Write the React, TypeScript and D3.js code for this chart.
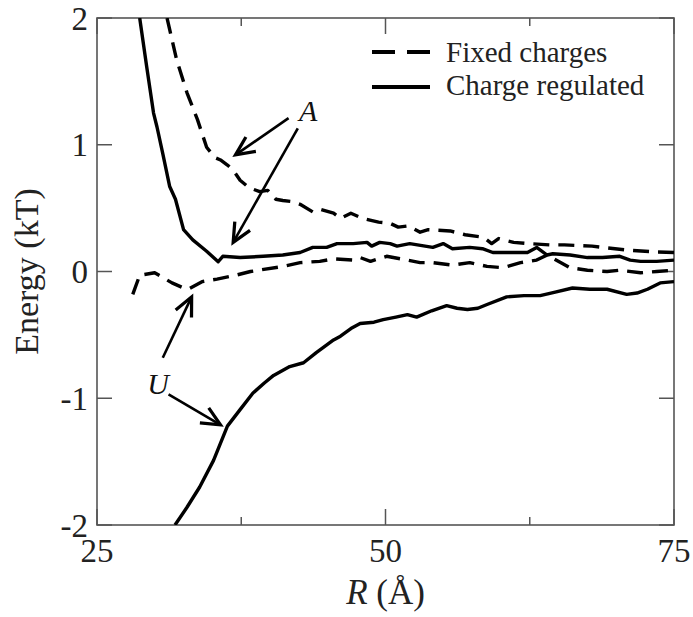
import React from "react";
import * as d3 from "d3";

// R (Å), energy (kT)
const fixedAttract: [number, number][] = [
  [31.07, 2.0], [31.9, 1.67], [32.8, 1.41], [33.7, 1.2], [34.5, 0.98], [35.2, 0.9],
  [35.7, 0.88], [36.3, 0.84], [36.8, 0.8], [37.4, 0.72], [38.2, 0.66], [39.1, 0.63],
  [39.8, 0.64], [40.5, 0.57], [41.1, 0.56], [42.0, 0.55], [42.6, 0.53], [43.7, 0.47],
  [44.4, 0.49], [45.5, 0.46], [46.1, 0.42], [47.0, 0.46], [48.0, 0.42], [49.4, 0.39],
  [50.4, 0.38], [51.1, 0.35], [52.0, 0.36], [53.0, 0.31], [53.7, 0.33], [55.6, 0.32],
  [56.9, 0.29], [58.5, 0.27], [59.2, 0.22], [59.8, 0.26], [61.1, 0.23], [62.4, 0.22],
  [64.2, 0.21], [65.5, 0.21], [67.9, 0.2], [70.8, 0.17], [73.4, 0.155], [75, 0.15],
];

const regulatedAttract: [number, number][] = [
  [28.7, 2.0], [29.3, 1.62], [29.9, 1.25], [30.2, 1.14], [30.7, 0.93], [31.3, 0.67],
  [31.8, 0.57], [32.5, 0.33], [33.3, 0.25], [34.5, 0.16], [35.5, 0.077], [35.9, 0.12],
  [37.4, 0.11], [39.4, 0.12], [41.1, 0.13], [42.6, 0.15], [43.7, 0.19], [44.9, 0.19],
  [45.8, 0.22], [47.2, 0.22], [48.4, 0.23], [48.8, 0.2], [49.5, 0.23], [50.4, 0.22],
  [51.0, 0.2], [52.1, 0.22], [54.1, 0.19], [55.0, 0.22], [55.8, 0.18], [57.3, 0.19],
  [58.4, 0.18], [59.3, 0.15], [60.8, 0.15], [62.3, 0.15], [63.1, 0.19], [64.0, 0.13],
  [64.5, 0.14], [66.0, 0.13], [67.5, 0.11], [68.8, 0.11], [70.3, 0.12], [71.2, 0.09],
  [72.1, 0.08], [73.5, 0.08], [75, 0.09],
];

const fixedRepulse: [number, number][] = [
  [28.1, -0.18], [28.7, -0.03], [30.0, -0.01], [31.5, -0.09], [32.5, -0.13], [32.9, -0.14],
  [34.1, -0.08], [35.4, -0.06], [37.0, -0.03], [38.3, 0.0], [41.1, 0.04], [42.6, 0.07],
  [44.3, 0.08], [45.5, 0.1], [47.2, 0.09], [47.8, 0.11], [48.7, 0.08], [50.1, 0.12],
  [51.3, 0.1], [53.0, 0.07], [54.1, 0.07], [55.8, 0.05], [57.3, 0.07], [58.8, 0.04],
  [60.2, 0.03], [61.7, 0.07], [63.1, 0.09], [64.0, 0.13], [66.0, 0.03], [67.5, 0.01],
  [69.2, 0.0], [70.3, 0.01], [72.1, -0.01], [73.5, 0.0], [75, 0.01],
];

const regulatedRepulse: [number, number][] = [
  [31.76, -2.0], [32.8, -1.86], [33.9, -1.7], [35.1, -1.49], [36.3, -1.22], [37.4, -1.09],
  [38.5, -0.96], [39.5, -0.88], [40.3, -0.82], [41.7, -0.75], [42.9, -0.72], [44.0, -0.64],
  [45.5, -0.54], [46.1, -0.51], [47.0, -0.45], [47.8, -0.41], [49.0, -0.4], [49.8, -0.38],
  [50.9, -0.36], [51.9, -0.34], [52.7, -0.36], [54.0, -0.31], [55.3, -0.27], [56.2, -0.29],
  [57.1, -0.3], [58.0, -0.29], [58.8, -0.26], [60.5, -0.2], [62.0, -0.19], [63.4, -0.19],
  [64.8, -0.16], [66.2, -0.13], [67.7, -0.14], [69.2, -0.14], [70.9, -0.18], [71.8, -0.17],
  [72.7, -0.14], [73.8, -0.09], [75, -0.08],
];

const xMajor = [25, 50, 75];
const xMinor = [37.5, 62.5];
const yMajor = [2, 1, 0, -1, -2];

const legendLabels = ["Fixed charges", "Charge regulated"];

// annotation arrows: [fromR, fromE, toR, toE]
const arrowsA = [[41.6, 1.21, 37.0, 0.92], [42.4, 1.13, 36.8, 0.23]];
const arrowsU = [[30.7, -0.68, 33.2, -0.2], [31.2, -0.97, 35.7, -1.21]];
const labelA = [43.3, 1.27];
const labelU = [30.3, -0.88];

const W = 693;
const H = 617;
const margin = { top: 18, right: 19, bottom: 92, left: 97 };
const font = "'Liberation Serif', 'Times New Roman', serif";
const axisColor = "#555";

export default function App() {
  const x = d3.scaleLinear().domain([25, 75]).range([margin.left, W - margin.right]);
  const y = d3.scaleLinear().domain([-2, 2]).range([H - margin.bottom, margin.top]);
  const line = d3.line<[number, number]>().x((d) => x(d[0])).y((d) => y(d[1]));

  const x0 = x.range()[0], x1 = x.range()[1];
  const y0 = y.range()[0], y1 = y.range()[1];

  const dashed = "16,9";

  return (
    <svg width={W} height={H} style={{ position: "absolute", left: 0, top: 0 }}>
      <defs>
        <clipPath id="plot">
          <rect x={x0} y={y1} width={x1 - x0} height={y0 - y1} />
        </clipPath>
        <marker id="head" markerUnits="userSpaceOnUse" markerWidth="30" markerHeight="30"
          viewBox="-20 -10 24 20" refX="0" refY="0" orient="auto">
          <path d="M-15,-7 L0,0 L-15,7" fill="none" stroke="#000" strokeWidth={2.6} />
        </marker>
      </defs>

      {/* ticks */}
      <g stroke={axisColor} strokeWidth={1.5}>
        {xMajor.map((t) => (
          <g key={"xm" + t}>
            <line x1={x(t)} x2={x(t)} y1={y0} y2={y0 - 16} />
            <line x1={x(t)} x2={x(t)} y1={y1} y2={y1 + 16} />
          </g>
        ))}
        {xMinor.map((t) => (
          <g key={"xn" + t}>
            <line x1={x(t)} x2={x(t)} y1={y0} y2={y0 - 8} />
            <line x1={x(t)} x2={x(t)} y1={y1} y2={y1 + 8} />
          </g>
        ))}
        {yMajor.map((t) => (
          <g key={"ym" + t}>
            <line x1={x0} x2={x0 + 15} y1={y(t)} y2={y(t)} />
            <line x1={x1} x2={x1 - 15} y1={y(t)} y2={y(t)} />
          </g>
        ))}
      </g>
      <rect x={x0} y={y1} width={x1 - x0} height={y0 - y1} fill="none" stroke={axisColor} strokeWidth={1.6} />

      {/* curves */}
      <g clipPath="url(#plot)" fill="none" stroke="#000" strokeWidth={3.4} strokeLinejoin="round">
        <path d={line(fixedAttract) || ""} strokeDasharray={dashed} />
        <path d={line(fixedRepulse) || ""} strokeDasharray={dashed} />
        <path d={line(regulatedAttract) || ""} />
        <path d={line(regulatedRepulse) || ""} />
      </g>

      {/* tick labels */}
      <g fontFamily={font} fontSize={33} fill="#222">
        {yMajor.map((t) => (
          <text key={"yl" + t} x={x0 - 9} y={y(t)} dy="0.35em" textAnchor="end">
            {t === -1 || t === -2 ? "-" + Math.abs(t) : t}
          </text>
        ))}
        {xMajor.map((t) => (
          <text key={"xl" + t} x={x(t)} y={y0 + 37} textAnchor="middle">{t}</text>
        ))}
      </g>

      {/* axis titles */}
      <text fontFamily={font} fontSize={34} fill="#222" textAnchor="middle"
        transform={`translate(38,${y(0)}) rotate(-90)`}>Energy (kT)</text>
      <text fontFamily={font} fontSize={35} fill="#222" textAnchor="middle" x={(x0 + x1) / 2} y={604}>
        <tspan fontStyle="italic">R</tspan> (Å)
      </text>

      {/* legend */}
      <g>
        <line x1={372} x2={430} y1={52} y2={52} stroke="#000" strokeWidth={4} strokeDasharray="23,12" />
        <line x1={372} x2={430} y1={87} y2={87} stroke="#000" strokeWidth={4} />
        <g fontFamily={font} fontSize={29} fill="#222">
          <text x={446} y={62}>{legendLabels[0]}</text>
          <text x={446} y={95}>{legendLabels[1]}</text>
        </g>
      </g>

      {/* annotations */}
      <g stroke="#000" strokeWidth={2.6} fill="none">
        {[...arrowsA, ...arrowsU].map((a, i) => (
          <line key={"ar" + i} x1={x(a[0])} y1={y(a[1])} x2={x(a[2])} y2={y(a[3])} markerEnd="url(#head)" />
        ))}
      </g>
      <g fontFamily={font} fontSize={30} fontStyle="italic" fill="#111" textAnchor="middle">
        <text x={x(labelA[0])} y={y(labelA[1])} dy="0.35em">A</text>
        <text x={x(labelU[0])} y={y(labelU[1])} dy="0.35em">U</text>
      </g>
    </svg>
  );
}
